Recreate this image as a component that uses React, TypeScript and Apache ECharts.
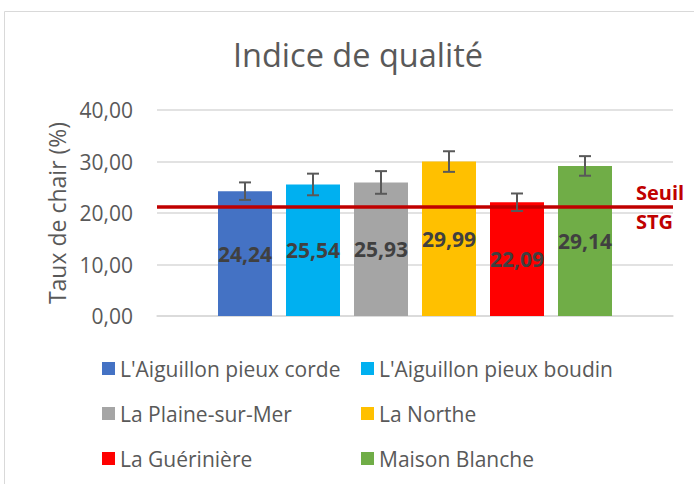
import React, { useEffect, useRef } from "react";
import * as echarts from "echarts";

const categories = [""];
const siteNames = [
  "L'Aiguillon pieux corde",
  "L'Aiguillon pieux boudin",
  "La Plaine-sur-Mer",
  "La Northe",
  "La Guérinière",
  "Maison Blanche",
];
const values = [24.24, 25.54, 25.93, 29.99, 22.09, 29.14];
const errors = [1.7, 2.1, 2.2, 2.0, 1.7, 1.9];
const colors = ["#4472C4", "#00B0F0", "#A5A5A5", "#FFC000", "#FF0000", "#70AD47"];
const seuil = 21.2;
const yMin = 0;
const yMax = 40;
const yInterval = 10;

const FONT = "'Open Sans', 'Noto Sans', sans-serif";
const BAR_W = 54;
const BAR_GAP_PX = 14;
const STEP = BAR_W + BAR_GAP_PX;

const fmt = (v: number) => v.toFixed(2).replace(".", ",");

export default function App() {
  const ref = useRef<HTMLDivElement>(null);
  useEffect(() => {
    if (!ref.current) return;
    const chart = echarts.init(ref.current, undefined, { renderer: "svg" });
    const n = siteNames.length;
    const barSeries: any[] = siteNames.map((name, i) => ({
      name,
      type: "bar",
      data: [values[i]],
      barWidth: BAR_W,
      barGap: (BAR_GAP_PX / BAR_W) * 100 + "%",
      itemStyle: { color: colors[i] },
      label: {
        show: true,
        position: "inside",
        formatter: (p: any) => fmt(p.value),
        color: "#404040",
        fontWeight: "bold",
        fontSize: 21,
        fontFamily: FONT,
      },
      ...(i === n - 1
        ? {
            markLine: {
              silent: true,
              symbol: "none",
              z: 5,
              data: [{ yAxis: seuil }],
              lineStyle: { color: "#C00000", width: 3.5, type: "solid" },
              label: {
                show: true,
                position: "end",
                distance: -37,
                formatter: "Seuil\n\nSTG",
                color: "#C00000",
                fontWeight: "bold",
                fontSize: 20,
                lineHeight: 14.5,
                fontFamily: FONT,
                align: "left",
              },
            },
          }
        : {}),
    }));

    const errSeries = {
      type: "custom",
      name: "err",
      z: 10,
      data: siteNames.map((_, i) => [0, values[i] - errors[i], values[i] + errors[i], i]),
      encode: { x: 0, y: [1, 2] },
      renderItem: (_params: any, api: any) => {
        const idx = api.value(3);
        const lo = api.coord([api.value(0), api.value(1)]);
        const hi = api.coord([api.value(0), api.value(2)]);
        const x = hi[0] + (idx - (n - 1) / 2) * STEP;
        const style = { stroke: "#595959", lineWidth: 2 };
        const cap = 6;
        return {
          type: "group",
          children: [
            { type: "line", shape: { x1: x, y1: hi[1], x2: x, y2: lo[1] }, style },
            { type: "line", shape: { x1: x - cap, y1: hi[1], x2: x + cap, y2: hi[1] }, style },
            { type: "line", shape: { x1: x - cap, y1: lo[1], x2: x + cap, y2: lo[1] }, style },
          ],
        };
      },
    };

    const legendBase = {
      orient: "vertical",
      top: 358,
      padding: 0,
      itemWidth: 13,
      itemHeight: 13,
      itemGap: 24,
      icon: "rect",
      textStyle: { color: "#595959", fontSize: 21, fontFamily: FONT },
    };

    chart.setOption({
      animation: false,
      title: {
        text: "Indice de qualité",
        left: 353,
        textAlign: "center",
        top: 33,
        textStyle: { color: "#595959", fontSize: 32.5, fontWeight: "normal", fontFamily: FONT },
      },
      graphic: [
        {
          type: "rect",
          shape: { x: 4.5, y: 11.5, width: 720, height: 520 },
          style: { fill: "none", stroke: "#D9D9D9", lineWidth: 1 },
          silent: true,
        },
      ],
      legend: [
        { ...legendBase, data: siteNames.filter((_, i) => i % 2 === 0), left: 102 },
        { ...legendBase, data: siteNames.filter((_, i) => i % 2 === 1), left: 361 },
      ],
      grid: { left: 157, right: 21, top: 110, bottom: 168, containLabel: false },
      xAxis: {
        type: "category",
        data: categories,
        axisLine: { show: true, lineStyle: { color: "#D9D9D9", width: 1.5 } },
        axisTick: { show: false },
        axisLabel: { show: false },
      },
      yAxis: {
        type: "value",
        min: yMin,
        max: yMax,
        interval: yInterval,
        name: "Taux de chair (%)",
        nameLocation: "middle",
        nameRotate: 90,
        nameGap: 88,
        nameTextStyle: { color: "#595959", fontSize: 23, fontFamily: FONT },
        axisLine: { show: false },
        axisTick: { show: false },
        axisLabel: {
          formatter: (v: number) => fmt(v),
          color: "#595959",
          fontSize: 21,
          fontFamily: FONT,
          margin: 24,
        },
        splitLine: { lineStyle: { color: "#D9D9D9", width: 1.5 } },
      },
      series: [...barSeries, errSeries],
    });
    return () => chart.dispose();
  }, []);
  return (
    <div
      ref={ref}
      style={{ position: "fixed", left: 0, top: 0, width: 694, height: 484, background: "#fff" }}
    />
  );
}
